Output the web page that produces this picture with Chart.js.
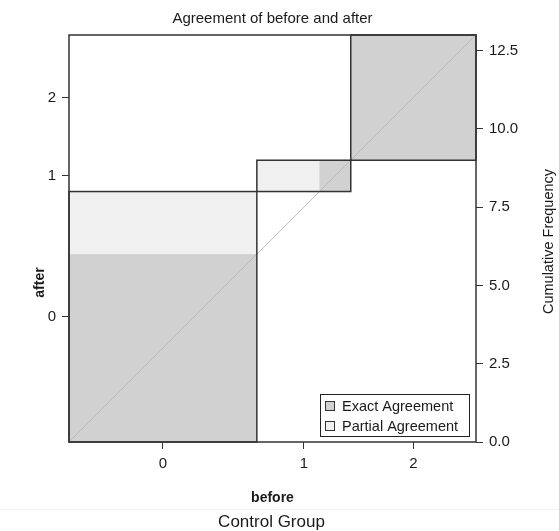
<!DOCTYPE html>
<html>
<head>
<meta charset="utf-8">
<script src="https://cdn.jsdelivr.net/npm/chart.js@4.4.1/dist/chart.umd.min.js"></script>
<style>
  html, body { margin: 0; padding: 0; background: #fff; }
</style>
</head>
<body>
<canvas id="chart" width="559" height="531"></canvas>
<script>
// categories shared by both raters
const categories = ["0", "1", "2"];
// contingency table, one row per "after" level, columns = "before" levels
const after0 = [6, 2, 0];
const after1 = [0, 1, 0];
const after2 = [0, 0, 4];
const counts = [after0, after1, after2];
// right axis ticks
const freqTicks = [0, 2.5, 5, 7.5, 10, 12.5];

const FONT = "'Liberation Sans', Arial, Helvetica, sans-serif";
const EXACT_FILL = "#d1d1d1";
const PARTIAL_FILL = "#f0f0f0";
const LINE = "#333333";
const TEXT = "#1a1a1a";

const k = categories.length;
const colTotals = categories.map((_, j) => counts.reduce((s, r) => s + r[j], 0));
const rowTotals = counts.map(r => r.reduce((s, v) => s + v, 0));
const n = colTotals.reduce((s, v) => s + v, 0);

const cum = arr => arr.map((_, i) => arr.slice(0, i).reduce((s, v) => s + v, 0));
const colStart = cum(colTotals);
const rowStart = cum(rowTotals);
const colMids = colTotals.map((v, i) => colStart[i] + v / 2);
const rowMids = rowTotals.map((v, i) => rowStart[i] + v / 2);

// band of cells within distance d of the diagonal for category i
function band(i, d) {
  const lo = Math.max(0, i - d), hi = Math.min(k - 1, i + d);
  let xOff = 0, w = 0, yOff = 0, h = 0;
  for (let a = 0; a < k; a++) {
    if (a < lo) { xOff += counts[a][i]; yOff += counts[i][a]; }
    else if (a <= hi) { w += counts[a][i]; h += counts[i][a]; }
  }
  return { x: colStart[i] + xOff, y: rowStart[i] + yOff, w, h };
}

function toPx(chart, r) {
  const { x, y } = chart.scales;
  const x0 = x.getPixelForValue(r.x), x1 = x.getPixelForValue(r.x + r.w);
  const y0 = y.getPixelForValue(r.y), y1 = y.getPixelForValue(r.y + r.h);
  return [x0, y1, x1 - x0, y0 - y1];
}

const agreementPlugin = {
  id: "agreement",
  beforeDatasetsDraw(chart) {
    const ctx = chart.ctx;
    ctx.save();
    for (let i = 0; i < k; i++) {
      const part = band(i, 1);
      if (part.w > 0 && part.h > 0) {
        ctx.fillStyle = PARTIAL_FILL;
        ctx.fillRect(...toPx(chart, part));
      }
      const ex = band(i, 0);
      if (ex.w > 0 && ex.h > 0) {
        ctx.fillStyle = EXACT_FILL;
        ctx.fillRect(...toPx(chart, ex));
      }
    }
    ctx.restore();
  },
  afterDatasetsDraw(chart) {
    const ctx = chart.ctx;
    const a = chart.chartArea;
    ctx.save();
    ctx.strokeStyle = LINE;
    ctx.lineWidth = 1.5;
    // marginal rectangles
    for (let i = 0; i < k; i++) {
      ctx.strokeRect(...toPx(chart, { x: colStart[i], y: rowStart[i], w: colTotals[i], h: rowTotals[i] }));
    }
    // frame
    ctx.strokeRect(a.left, a.top, a.right - a.left, a.bottom - a.top);

    // legend
    const bx = a.right - 156, by = a.bottom - 48, bw = 149, bh = 42;
    ctx.fillStyle = "#fff";
    ctx.fillRect(bx, by, bw, bh);
    ctx.lineWidth = 1;
    ctx.strokeStyle = "#222";
    ctx.strokeRect(bx + 0.5, by + 0.5, bw, bh);
    const items = [["Exact Agreement", EXACT_FILL], ["Partial Agreement", PARTIAL_FILL]];
    ctx.font = "14.5px " + FONT;
    ctx.textBaseline = "middle";
    ctx.textAlign = "left";
    items.forEach(([label, fill], idx) => {
      const cy = by + 12 + idx * 20;
      ctx.fillStyle = fill;
      ctx.fillRect(bx + 5, cy - 5, 10, 10);
      ctx.strokeStyle = "#333";
      ctx.strokeRect(bx + 5.5, cy - 4.5, 9, 9);
      ctx.fillStyle = TEXT;
      ctx.fillText(label, bx + 22, cy + 0.5);
    });
    ctx.restore();
  },
  afterDraw(chart) {
    const ctx = chart.ctx;
    const a = chart.chartArea;
    const cx = (a.left + a.right) / 2;
    ctx.save();
    ctx.fillStyle = TEXT;
    ctx.textAlign = "center";
    ctx.textBaseline = "middle";
    ctx.font = "15px " + FONT;
    ctx.fillText("Agreement of before and after", cx, 19);
    ctx.font = "bold 14px " + FONT;
    ctx.fillText("before", cx, 498);
    ctx.font = "17px " + FONT;
    ctx.fillText("Control Group", cx - 1, 522);
    ctx.strokeStyle = "#f2f2f2";
    ctx.lineWidth = 1;
    ctx.beginPath();
    ctx.moveTo(0, 509.5);
    ctx.lineTo(chart.width, 509.5);
    ctx.stroke();

    ctx.save();
    ctx.translate(40, (a.top + a.bottom) / 2 + 44);
    ctx.rotate(-Math.PI / 2);
    ctx.font = "bold 14px " + FONT;
    ctx.fillText("after", 0, 0);
    ctx.restore();

    ctx.save();
    ctx.translate(549, (a.top + a.bottom) / 2 + 3);
    ctx.rotate(-Math.PI / 2);
    ctx.font = "14.5px " + FONT;
    ctx.fillText("Cumulative Frequency", 0, 0);
    ctx.restore();
    ctx.restore();
  }
};

const tickFont = { family: FONT, size: 15 };
const tickGrid = { drawOnChartArea: false, drawTicks: true, tickLength: 7, color: LINE, lineWidth: 1 };

new Chart(document.getElementById("chart"), {
  type: "scatter",
  data: {
    datasets: [{
      data: [{ x: 0, y: 0 }, { x: n, y: n }],
      showLine: true,
      borderColor: "#bdbdbd",
      borderWidth: 1,
      pointRadius: 0
    }]
  },
  options: {
    responsive: false,
    animation: false,
    layout: { padding: { top: 35, left: 0, right: 0, bottom: 0 } },
    plugins: { legend: { display: false }, tooltip: { enabled: false }, title: { display: false } },
    scales: {
      x: {
        type: "linear", position: "bottom", min: 0, max: n, bounds: "data",
        afterBuildTicks: s => { s.ticks = colMids.map(v => ({ value: v })); },
        afterFit: s => { s.height = 89; },
        ticks: { callback: (v, i) => categories[i], font: tickFont, color: TEXT, padding: 6, maxRotation: 0, autoSkip: false },
        grid: tickGrid,
        border: { display: false }
      },
      y: {
        type: "linear", position: "left", min: 0, max: n, bounds: "data",
        afterBuildTicks: s => { s.ticks = rowMids.map(v => ({ value: v })); },
        afterFit: s => { s.width = 69; },
        ticks: { callback: (v, i) => categories[i], font: tickFont, color: TEXT, padding: 6, autoSkip: false },
        grid: tickGrid,
        border: { display: false }
      },
      y2: {
        type: "linear", position: "right", min: 0, max: n, bounds: "data",
        afterBuildTicks: s => { s.ticks = freqTicks.map(v => ({ value: v })); },
        afterFit: s => { s.width = 83; },
        ticks: { callback: v => v.toFixed(1), font: tickFont, color: TEXT, padding: 6, autoSkip: false },
        grid: tickGrid,
        border: { display: false }
      }
    }
  },
  plugins: [agreementPlugin]
});
</script>
</body>
</html>
